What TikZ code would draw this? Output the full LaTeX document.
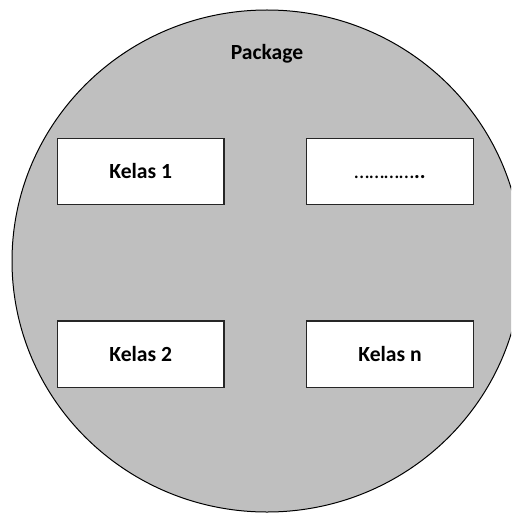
\documentclass[tikz,border=0pt]{standalone}
\usepackage{fontspec}
\setmainfont{Carlito}
\begin{document}
\begin{tikzpicture}[x=1pt,y=-1pt,
  lbl/.style={font=\fontsize{21.6}{24}\selectfont\bfseries},
  kbox/.style={draw=black!85, line width=1.3pt, fill=white, minimum width=166.7pt, minimum height=66.5pt, inner sep=0pt, font=\fontsize{21.6}{24}\selectfont\bfseries}]
\useasboundingbox (0,0) rectangle (511,513);
\begin{scope}
\clip (0,0) rectangle (511,513);
\draw[fill=black!25, line width=1pt] (267,261) ellipse [x radius=255, y radius=251];
\end{scope}
\node[lbl] (pkg) at (267,54) {Package};
\node[kbox] (k1) at (140.7,171.5) {Kelas 1};
\node[kbox] (kd) at (390,171.5) {\vphantom{Kelas 1}{\mdseries…………}..};
\node[kbox] (k2) at (140.7,354.3) {Kelas 2};
\node[kbox] (kn) at (390,354.3) {Kelas n};
\end{tikzpicture}
\end{document}
